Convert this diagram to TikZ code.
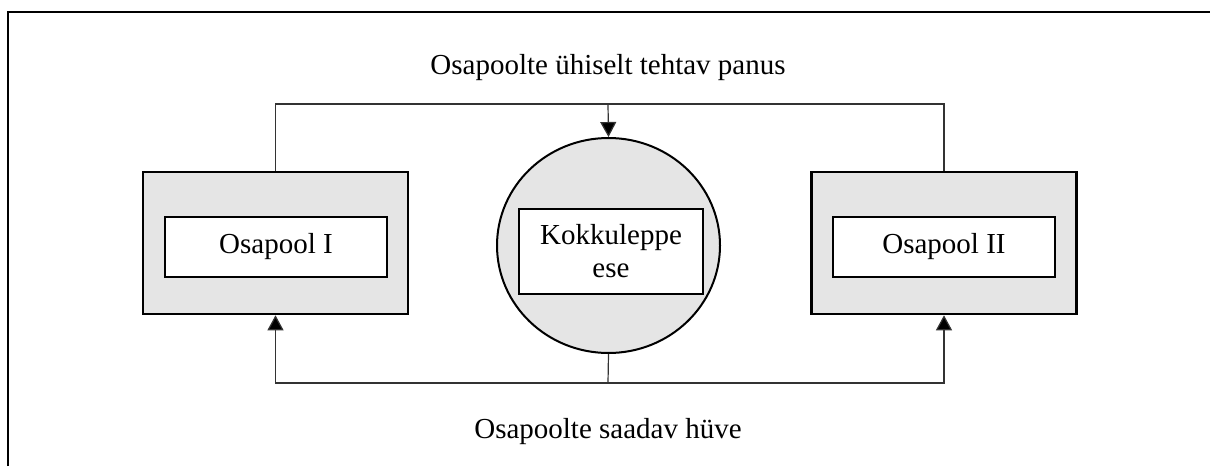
\documentclass[tikz,border=0pt]{standalone}
\usepackage{fontspec}
\setmainfont{Liberation Serif}
\usetikzlibrary{arrows.meta,shapes.geometric}

\begin{document}
\begin{tikzpicture}[x=0.5pt,y=-0.5pt,
 	party/.style={draw,line width=1.3pt,fill=black!10,minimum width=132.5pt,minimum height=71pt},
 	inbox/.style={draw,line width=0.6pt,fill=white,align=center,inner sep=0pt},
 	conn/.style={line width=0.6pt,draw=black!80},
 	tip/.style={-{Triangle[length=7.5pt,width=8pt,fill=black]}}]
 	\useasboundingbox (0,0) rectangle (1210,466);
 	\fontsize{14.5}{16.5}\selectfont
 	\draw[line width=1.4pt] (8,466) -- (8,12) -- (1210,12);
 
 	\node (P1)[party] at (275.5,243) {};
 	\node (P1in)[inbox,minimum width=111pt,minimum height=30pt] at (276,247) {Osapool I};
 	\node (P2)[party] at (944,243) {};
 	\node (P2in)[inbox,minimum width=111pt,minimum height=30pt] at (944,247) {Osapool II};
 	\node (E)[draw,ellipse,line width=1pt,fill=black!10,minimum width=111.5pt,minimum height=107.5pt,inner sep=0pt] at (608.5,245.5) {};
 	\node (Ein)[inbox,minimum width=92pt,minimum height=42.5pt] at (611,251.5) {Kokkuleppe\\ese};
 
 	\node (panus) at (608,68) {Osapoolte ühiselt tehtav panus};
 	\node (huve) at (608,432) {Osapoolte saadav hüve};
 
 	\coordinate (top) at (608,104);
 	\coordinate (bot) at (608,383);
 
 	\draw[conn] (P1.north) |- (top) -| (P2.north);
 	\draw[conn,tip] (top) -- (E.north);
 	\draw[conn] (E.south) -- (bot);
 	\draw[conn,tip] (bot) -| (P1.south);
 	\draw[conn,tip] (bot) -| (P2.south);
 
 \end{tikzpicture}
\end{document}
